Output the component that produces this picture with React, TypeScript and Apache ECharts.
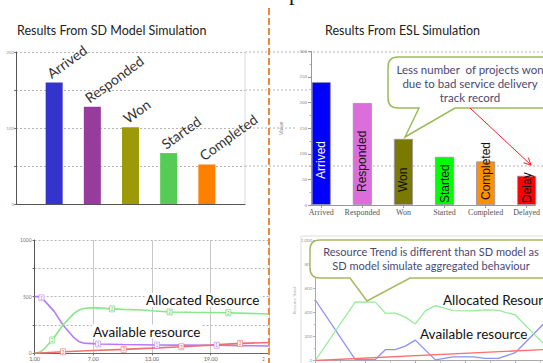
import React, { useEffect, useRef } from "react";
import * as echarts from "echarts";

// ---------- SD model: project pipeline ----------
const sdStages = ["Arrived", "Responded", "Won", "Started", "Completed"];
const sdStageCounts = [160, 128, 101, 67, 52];
const sdStageColors = ["#3434cc", "#963c9c", "#9c9a06", "#56cc56", "#ff8000"];

// ---------- ESL simulation: project pipeline ----------
const eslStages = ["Arrived", "Responded", "Won", "Started", "Completed", "Delayed"];
const eslStageCounts = [240, 199, 129, 94, 85, 57];
const eslStageColors = ["#0000ff", "#dc6edc", "#7a7a00", "#00ff00", "#ff9000", "#ff0000"];
const eslLabelColors = ["#ffffff", "#111111", "#111111", "#111111", "#111111", "#111111"];

// ---------- SD model: resources over time [time, level] ----------
const sdAvailable: [number, number][] = [
  [1, 500], [1.5, 500], [1.7, 490], [2, 465], [3, 370], [3.9, 250], [5, 140], [5.5, 105],
  [6, 90], [7, 85], [7.5, 82], [10, 78], [13.5, 73], [16, 72], [19.6, 71], [22, 68], [25, 65],
];
const sdAllocated: [number, number][] = [
  [1, 0], [1.5, 8], [2, 40], [2.8, 117], [3.9, 250], [5, 350], [5.5, 380], [6, 395], [7, 403],
  [8.9, 392], [10, 388], [12, 382], [13, 375], [14.8, 365], [17, 362], [20.8, 358], [25, 347],
];
const sdThird: [number, number][] = [
  [1, 0], [3.9, 14], [7, 25], [10.1, 35], [13, 46], [16, 58], [19, 72], [22, 88], [25, 95],
];
const sdAvailableMarks = [1.7, 7.5, 13.5, 19.6];
const sdAllocatedMarks = [2.8, 8.9, 14.8, 20.8];
const sdThirdMarks = [3.9, 10.1, 16, 22];

// ---------- ESL simulation: resources over time [time, level] ----------
const eslAvailable: [number, number][] = [
  [0, 505], [4, 8], [6, 8], [7, 90], [8, 90], [9, 120], [10, 170], [12, 5], [13.8, 30],
  [15.8, 30], [17, 18], [18.3, 18], [20, 65], [23, 320],
];
const eslAllocated: [number, number][] = [
  [0, 0], [4, 490], [6, 487], [7, 395], [8, 395], [9, 362], [10, 305], [11, 414], [12, 458],
  [13.8, 417], [15.8, 414], [17, 422], [18.3, 418], [20, 380], [23, 126],
];
const eslThird: [number, number][] = [[0, 0], [23, 92]];

const sdTitle = "Results From SD Model Simulation";
const eslTitle = "Results From ESL Simulation";
const eslNote = ["Less number  of projects won", "due to bad service delivery", "track record"];
const trendNote = ["Resource Trend is different than SD model as", "SD model simulate aggregated behaviour"];

// label lift inside the ESL bars (px from the bar bottom)
const eslLabelLift = [26, 13, 13, 2, 5, 2];
const eslPositions = eslStages.map((_, i) => i + 1);

const CALLOUT_TOP =
  "M398,57 L553,57 Q563,57 563,67 L563,98 Q563,108 553,108 L455,108 L405,137 L419,108 L398,108 Q388,108 388,98 L388,67 Q388,57 398,57 Z";
const CALLOUT_BOTTOM =
  "M320,240 L560,240 L560,278 L410,278 L367,301 L350,278 L320,278 Q310,278 310,268 L310,250 Q310,240 320,240 Z";

let shapesReady = false;
function registerShapes() {
  if (shapesReady) return;
  echarts.graphic.registerShape("calloutTop", echarts.graphic.extendPath(CALLOUT_TOP, {}) as any);
  echarts.graphic.registerShape("calloutBottom", echarts.graphic.extendPath(CALLOUT_BOTTOM, {}) as any);
  shapesReady = true;
}

const LABEL_FONT = "Lato";
const dotted = { color: "#b4b4b4", type: [2, 2] as number[], width: 1 };

function markedLine(points: [number, number][], marks: number[], color: string, digit: string) {
  return points.map((p) =>
    marks.includes(p[0])
      ? {
          value: p,
          symbol: "rect",
          symbolSize: [5, 6],
          itemStyle: { color: "#ffffff", borderColor: color, borderWidth: 0.6 },
          label: { show: true, position: "inside", formatter: digit, fontSize: 5, color },
        }
      : { value: p }
  );
}

function buildOption(): echarts.EChartsOption {
  const graphicEls: any[] = [
    // top glyph cut at the page edge
    { type: "text", x: 289, y: -8, z: 5, style: { text: "p", fontFamily: "Liberation Serif", fontSize: 22, fill: "#111", verticalAlign: "middle" } },
    // titles
    { type: "text", x: 17, y: 30, z: 5, style: { text: sdTitle, fontFamily: LABEL_FONT, fontSize: 12.5, fill: "#222", verticalAlign: "middle" } },
    { type: "text", x: 402.5, y: 30, z: 5, style: { text: eslTitle, fontFamily: LABEL_FONT, fontSize: 12.5, fill: "#222", align: "center", verticalAlign: "middle" } },
    // gridlines running past the SD bar plot
    { type: "line", z: 0, shape: { x1: 245, y1: 52, x2: 543, y2: 52 }, style: { stroke: "#b4b4b4", lineDash: [2, 2] } },
    { type: "line", z: 0, shape: { x1: 245, y1: 166, x2: 543, y2: 166 }, style: { stroke: "#b4b4b4", lineDash: [2, 2] } },
    { type: "line", z: 0, shape: { x1: 245, y1: 90, x2: 308, y2: 90 }, style: { stroke: "#b4b4b4", lineDash: [2, 2] } },
    { type: "line", z: 0, shape: { x1: 245, y1: 128, x2: 296, y2: 128 }, style: { stroke: "#b4b4b4", lineDash: [2, 2] } },
    { type: "line", z: 0, shape: { x1: 245, y1: 52, x2: 245, y2: 204 }, style: { stroke: "#dddddd" } },
    // ESL resource plot frame
    { type: "rect", z: 0, shape: { x: 301, y: 236, width: 260, height: 140 }, style: { fill: "none", stroke: "#dddddd" } },
    // ESL callout
    { type: "calloutTop", z: 10, style: { fill: "#ffffff", stroke: "#9bbb59", lineWidth: 1.5 } },
    {
      type: "text", x: 470, y: 83, z: 11,
      style: { text: eslNote.join("\n"), fontFamily: LABEL_FONT, fontSize: 11.5, lineHeight: 14, fill: "#4a4870", align: "center", verticalAlign: "middle" },
    },
    { type: "line", z: 12, shape: { x1: 470, y1: 108, x2: 531, y2: 165 }, style: { stroke: "#ff2020", lineWidth: 1 } },
    { type: "polyline", z: 12, shape: { points: [[523.5, 162.8], [531, 165], [528.3, 157.6]] }, style: { stroke: "#ff2020", lineWidth: 1, fill: "none" } },
    // resource trend callout
    { type: "calloutBottom", z: 10, style: { fill: "#ffffff", stroke: "#a8b860", lineWidth: 1.5 } },
    {
      type: "text", x: 431, y: 258, z: 11,
      style: { text: trendNote.join("\n"), fontFamily: LABEL_FONT, fontSize: 11, lineHeight: 14, fill: "#4a4870", align: "center", verticalAlign: "middle" },
    },
    // line names
    { type: "text", x: 145, y: 300, z: 6, style: { text: "Allocated Resource", fontFamily: LABEL_FONT, fontSize: 13.5, fill: "#111", verticalAlign: "middle", backgroundColor: "#fff", padding: [0, 1] } },
    { type: "text", x: 92, y: 331.5, z: 6, style: { text: "Available resource", fontFamily: LABEL_FONT, fontSize: 13.5, fill: "#111", verticalAlign: "middle", backgroundColor: "#fff", padding: [0, 1] } },
    { type: "text", x: 443, y: 300, z: 6, style: { text: "Allocated Resource", fontFamily: LABEL_FONT, fontSize: 13.5, fill: "#111", verticalAlign: "middle" } },
    { type: "text", x: 420, y: 334, z: 6, style: { text: "Available resource", fontFamily: LABEL_FONT, fontSize: 13.5, fill: "#111", verticalAlign: "middle" } },
    // trim of the last time label under the divider
    { type: "rect", z: 15, shape: { x: 264.5, y: 355, width: 30, height: 9 }, style: { fill: "#ffffff" } },
    // dashed divider between the two studies
    { type: "line", z: 20, shape: { x1: 269, y1: 8, x2: 269, y2: 363 }, style: { stroke: "#f0883a", lineWidth: 2, lineDash: [7, 3] } },
  ];

  return {
    animation: false,
    backgroundColor: "#ffffff",
    textStyle: { fontFamily: LABEL_FONT },
    grid: [
      { left: 16, top: 52, width: 229, height: 152 },
      { left: 311, top: 51.3, width: 232, height: 153.7 },
      { left: 34.6, top: 240, width: 234.8, height: 113.3 },
      { left: 315.3, top: 240.7, width: 227.7, height: 120 },
    ],
    xAxis: [
      {
        gridIndex: 0, type: "value", min: 0, max: 6,
        axisLine: { show: true, lineStyle: { color: "#555" } },
        axisTick: { show: false }, axisLabel: { show: false }, splitLine: { show: false },
      },
      {
        gridIndex: 1, type: "value", min: 0.75, max: 6.21,
        axisLine: { lineStyle: { color: "#999" } },
        axisTick: { show: true, length: 3, customValues: eslPositions, lineStyle: { color: "#999" } },
        axisLabel: {
          fontSize: 8, fontFamily: "Liberation Serif", color: "#555", margin: 3,
          customValues: eslPositions,
          formatter: (v: number) => eslStages[Math.round(v) - 1] ?? "",
        },
        splitLine: { show: false },
      },
      {
        gridIndex: 2, type: "value", min: 1, max: 25, interval: 6,
        axisLine: { lineStyle: { color: "#666" } },
        axisTick: { length: 2, lineStyle: { color: "#666" } },
        axisLabel: { fontSize: 5.5, color: "#666", margin: 3, formatter: (v: number) => v.toFixed(2) },
        splitLine: { show: true, lineStyle: { color: "#c8c8c8" } },
      },
      {
        gridIndex: 3, type: "value", min: 0, max: 22.77, interval: 5,
        axisLine: { lineStyle: { color: "#aaa" } },
        axisTick: { length: 3, lineStyle: { color: "#aaa" } },
        minorTick: { show: true, splitNumber: 2, length: 2, lineStyle: { color: "#bbb" } },
        axisLabel: { show: false }, splitLine: { show: false },
      },
    ],
    yAxis: [
      {
        gridIndex: 0, type: "value", min: 0, max: 200, interval: 50,
        axisLine: { show: true, lineStyle: { color: "#555" } },
        axisTick: { show: true, length: 2, lineStyle: { color: "#777" } },
        axisLabel: { fontSize: 4.5, color: "#999", margin: 2, formatter: (v: number) => (v % 100 === 0 ? String(v) : "") },
        splitLine: { show: true, lineStyle: dotted },
      },
      {
        gridIndex: 1, type: "value", min: 0, max: 300, interval: 50,
        axisLine: { show: true, lineStyle: { color: "#999" } },
        axisTick: { show: true, length: 3, lineStyle: { color: "#999" } },
        minorTick: { show: true, splitNumber: 2, length: 1.5, lineStyle: { color: "#aaa" } },
        axisLabel: { fontSize: 5, fontFamily: "Liberation Serif", color: "#777", margin: 4 },
        name: "Value", nameLocation: "middle", nameGap: 27,
        nameTextStyle: { fontSize: 5.5, color: "#888", fontFamily: "Liberation Sans" },
        splitLine: { show: false },
      },
      {
        gridIndex: 2, type: "value", min: 0, max: 1000, interval: 250,
        axisLine: { show: true, lineStyle: { color: "#555" } },
        axisTick: { show: true, length: 2, lineStyle: { color: "#666" } },
        axisLabel: { fontSize: 5, color: "#777", margin: 3, formatter: (v: number) => (v % 500 === 0 ? String(v) : "") },
        splitLine: { show: true, lineStyle: dotted },
      },
      {
        gridIndex: 3, type: "value", min: 0, max: 1000, interval: 200,
        axisLine: { show: true, lineStyle: { color: "#aaa" } },
        axisTick: { show: true, length: 2, lineStyle: { color: "#aaa" } },
        minorTick: { show: true, splitNumber: 2, length: 1.5, lineStyle: { color: "#bbb" } },
        axisLabel: { fontSize: 4.5, color: "#999", margin: 3 },
        name: "Resource Trend", nameLocation: "middle", nameGap: 10.6,
        nameTextStyle: { fontSize: 4, color: "#aaa" },
        splitLine: { show: false },
      },
    ],
    series: [
      {
        type: "bar", xAxisIndex: 0, yAxisIndex: 0, barWidth: 17,
        data: sdStageCounts.map((v, i) => ({ value: [i + 1, v], itemStyle: { color: sdStageColors[i] } })),
        label: {
          show: true, position: "top", distance: 3, rotate: 36, align: "left", verticalAlign: "bottom",
          offset: [-2, 0], fontFamily: LABEL_FONT, fontSize: 14, color: "#333",
          formatter: (p: any) => sdStages[p.dataIndex],
        },
      },
      {
        type: "bar", xAxisIndex: 1, yAxisIndex: 1, barWidth: 19,
        data: eslStageCounts.map((v, i) => ({
          value: [eslPositions[i], v],
          itemStyle: { color: eslStageColors[i], borderColor: "#9b8fb0", borderWidth: 0.8 },
          label: {
            distance: eslLabelLift[i],
            color: eslLabelColors[i],
            ...(i === eslStages.length - 1 ? { width: 36, overflow: "truncate", ellipsis: "" } : {}),
          },
        })),
        label: {
          show: true, position: "insideBottom", rotate: 90, align: "left", verticalAlign: "middle",
          fontFamily: "Liberation Sans", fontSize: 12,
          formatter: (p: any) => eslStages[p.dataIndex],
        },
      },
      {
        type: "line", xAxisIndex: 2, yAxisIndex: 2, symbol: "none", z: 3,
        lineStyle: { color: "#b57cf7", width: 1.6 }, itemStyle: { color: "#b57cf7" },
        data: markedLine(sdAvailable, sdAvailableMarks, "#b57cf7", "1"),
      },
      {
        type: "line", xAxisIndex: 2, yAxisIndex: 2, symbol: "none", z: 3,
        lineStyle: { color: "#86e886", width: 1.6 }, itemStyle: { color: "#86e886" },
        data: markedLine(sdAllocated, sdAllocatedMarks, "#5fcf5f", "2"),
      },
      {
        type: "line", xAxisIndex: 2, yAxisIndex: 2, symbol: "none", z: 3,
        lineStyle: { color: "#f07070", width: 1.6 }, itemStyle: { color: "#f07070" },
        data: markedLine(sdThird, sdThirdMarks, "#f07070", "3"),
      },
      {
        type: "line", xAxisIndex: 3, yAxisIndex: 3, symbol: "none",
        lineStyle: { color: "#8f8ff7", width: 1.3 }, data: eslAvailable,
      },
      {
        type: "line", xAxisIndex: 3, yAxisIndex: 3, symbol: "none",
        lineStyle: { color: "#98ec98", width: 1.3 }, data: eslAllocated,
      },
      {
        type: "line", xAxisIndex: 3, yAxisIndex: 3, symbol: "none",
        lineStyle: { color: "#ff7070", width: 1.3 }, data: eslThird,
      },
    ],
    graphic: { elements: graphicEls },
  } as echarts.EChartsOption;
}

export default function App() {
  const ref = useRef<HTMLDivElement>(null);
  useEffect(() => {
    if (!ref.current) return;
    registerShapes();
    const chart = echarts.init(ref.current, null, { renderer: "svg" });
    chart.setOption(buildOption());
    return () => chart.dispose();
  }, []);
  return (
    <div
      ref={ref}
      style={{ position: "fixed", left: 0, top: 0, width: 543, height: 363, background: "#fff" }}
    />
  );
}
